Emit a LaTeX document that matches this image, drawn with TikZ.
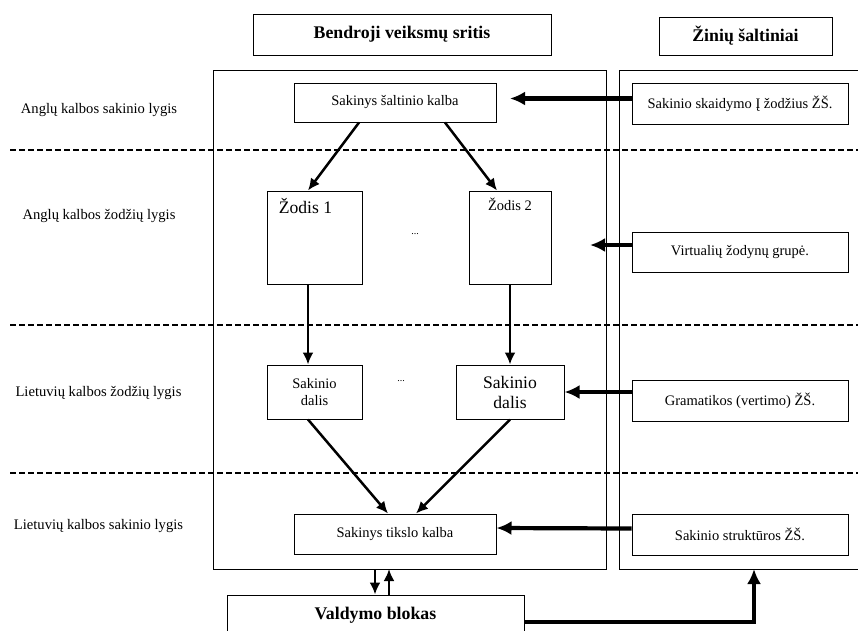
\documentclass[tikz,border=0pt]{standalone}
\usepackage{fontspec}
\setmainfont{Liberation Serif}
\usetikzlibrary{shapes,arrows.meta}

\begin{document}
\begin{tikzpicture}[x=1pt,y=-1pt,
	box/.style={draw,line width=1pt,inner sep=0pt,align=center,font=\fontsize{14.5}{17.5}\selectfont},
	bigbox/.style={box,font=\fontsize{17.6}{20}\selectfont},
	headbox/.style={box,font=\fontsize{17.8}{20}\selectfont\bfseries},
	lvl/.style={font=\fontsize{14.6}{17}\selectfont},
	dots/.style={font=\fontsize{10}{12}\selectfont},
	link/.style={line width=2.5pt,-{Latex[length=12pt,width=11pt]}},
	ctrl/.style={line width=2.8pt,-{Latex[length=12pt,width=11pt]}},
	feed/.style={line width=4.2pt,-{Latex[length=15pt,width=14pt]}}]
		\useasboundingbox (0,0) rectangle (858,630);
		\clip (0,0) rectangle (858,630);

		% levels
		\foreach \y in {150,325,473}{
			\draw[line width=1.5pt,dash pattern=on 6pt off 3pt] (10,\y) -- (858,\y);
		}
		\node[lvl] (l1) at (99,110) {Anglų kalbos sakinio lygis};
		\node[lvl] (l2) at (99,216) {Anglų kalbos žodžių lygis};
		\node[lvl] (l3) at (98.5,393) {Lietuvių kalbos žodžių lygis};
		\node[lvl] (l4) at (98.5,526) {Lietuvių kalbos sakinio lygis};

		% areas
		\node[headbox,minimum width=298,minimum height=41] (bvs) at (402,34.5) {Bendroji veiksmų sritis};
		\node[headbox,minimum width=173,minimum height=38] (zs) at (745.5,36) {Žinių šaltiniai};
		\draw[line width=1pt] (213,70) rectangle (606,569);
		\draw[line width=1pt] (870,70) -| (619,569) -- (870,569);
		\coordinate (areabot) at (409.5,569);
		\coordinate (srcbot) at (754,569);

		% left area
		\node[box,minimum width=202,minimum height=39] (sk) at (395,102.5) {Sakinys šaltinio kalba};
		\node[box,minimum width=95,minimum height=93] (zod1) at (314.5,237.5) {};
		\node[bigbox,draw=none] (zod1t) at (305.5,206) {Žodis 1};
		\node[box,minimum width=82,minimum height=93] (zod2) at (510,237.5) {};
		\node[box,draw=none] (zod2t) at (510,204) {Žodis 2};
		\node[dots] (d1) at (415,234) {...};
		\node[box,minimum width=95,minimum height=54] (sd1) at (314.5,392) {Sakinio\\dalis};
		\node[bigbox,minimum width=108,minimum height=54] (sd2) at (510,392) {Sakinio\\dalis};
		\node[dots] (d2) at (401,381) {...};
		\node[box,minimum width=202,minimum height=40] (stk) at (395,534) {Sakinys tikslo kalba};

		% right area
		\node[box,minimum width=216,minimum height=41] (ssz) at (740,103.5) {Sakinio skaidymo Į žodžius ŽŠ.};
		\node[box,minimum width=216,minimum height=40] (vzg) at (740,252) {Virtualių žodynų grupė.};
		\node[box,minimum width=216,minimum height=41] (gram) at (740,400.5) {Gramatikos (vertimo) ŽŠ.};
		\node[box,minimum width=216,minimum height=41] (sss) at (740,534.5) {Sakinio struktūros ŽŠ.};
		\coordinate (vend) at (590,245);

		\node[headbox,minimum width=297,minimum height=40] (vb) at (375.5,615) {Valdymo blokas};

		% links
		\draw[link] ([xshift=-36pt]sk.south) -- ([xshift=-6.5pt]zod1.north);
		\draw[link] ([xshift=50pt]sk.south) -- ([xshift=-13pt]zod2.north);
		\draw[link] ([xshift=-6.5pt]zod1.south) -- ([xshift=-6.5pt]sd1.north);
		\draw[link] (zod2.south) -- (sd2.north);
		\draw[link] ([xshift=-6.5pt]sd1.south) -- ([xshift=-7pt]stk.north);
		\draw[link] (sd2.south) -- ([xshift=21pt]stk.north);

		\draw[feed] ([yshift=5pt]ssz.west) -- ([yshift=5pt]ssz.west -| 510,0);
		\draw[feed] (vzg.west |- vend) -- (vend);
		\draw[feed] (gram.west |- sd2.east) -- (sd2.east);
		\draw[feed] ([yshift=6pt]sss.west) -- ([yshift=6pt]stk.east);

		\draw[ctrl] ([xshift=-0.5pt]areabot -| vb.north) -- ([xshift=-0.5pt]vb.north);
		\draw[ctrl] ([xshift=13.5pt]vb.north) -- ([xshift=13.5pt]areabot -| vb.north);
		\draw[feed] ([yshift=-7pt]vb.east) -| (srcbot);
	\end{tikzpicture}
\end{document}
